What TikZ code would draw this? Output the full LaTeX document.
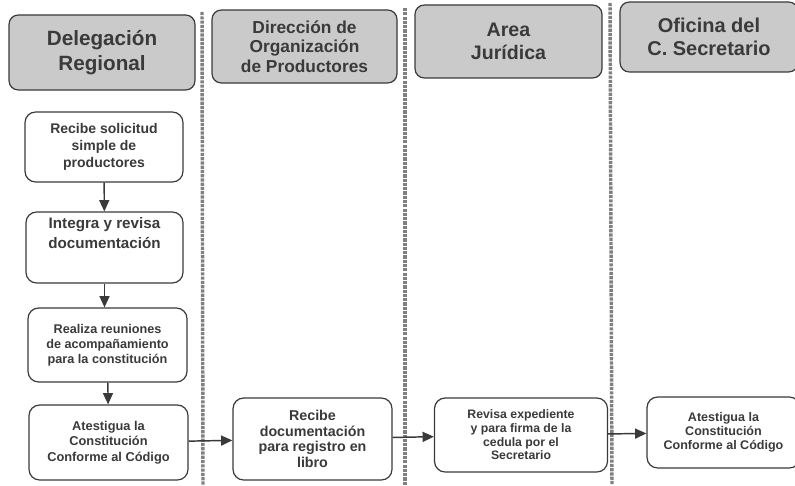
\documentclass[tikz,border=0pt]{standalone}
\usepackage{fontspec}
\setmainfont{Liberation Sans}
\usetikzlibrary{arrows.meta, positioning}

\definecolor{ink}{HTML}{3A3A3A}
\definecolor{lanefill}{HTML}{CACACA}

\begin{document}
\begin{tikzpicture}[
    x=0.75pt, y=-0.75pt,
    lane/.style={rectangle, draw=ink, fill=lanefill, line width=0.9pt, rounded corners=7pt, align=center, text=ink, inner sep=2pt},
    process/.style={rectangle, draw=ink, fill=white, line width=0.9pt, rounded corners=8pt, align=center, text=ink, inner sep=2pt},
    arrow/.style={-{Triangle[length=8.5pt, width=7.5pt]}, line width=1.1pt, draw=ink, fill=ink},
    divider/.style={draw=black!50, line width=2.6pt, dash pattern=on 2.4pt off 0.8pt}
]
\useasboundingbox (0,0) rectangle (795,485);

% Lane dividers
\draw[divider] (202,12) -- (203,485);
\draw[divider] (405,8) -- (405,485);
\draw[divider] (610,3) -- (612,485);

% Lane headers
\node[lane, minimum width=139.5pt, minimum height=56.25pt, font={\bfseries\fontsize{15.5}{18.75}\selectfont}] (deleg) at (102,52.5) {Delegación\\Regional};
\node[lane, minimum width=138.75pt, minimum height=54.75pt, font={\bfseries\fontsize{13}{14.5}\selectfont}] (direc) at (304.5,46.5) {Dirección de\\Organización\\de Productores};
\node[lane, minimum width=140.25pt, minimum height=54.75pt, font={\bfseries\fontsize{14.7}{17.5}\selectfont}] (area) at (508.5,41.5) {Area\\Jurídica};
\node[lane, minimum width=133.5pt, minimum height=52.5pt, font={\bfseries\fontsize{15}{17.5}\selectfont}] (ofic) at (709,37) {Oficina del\\C. Secretario};

% Delegación Regional
\node[process, minimum width=118.5pt, minimum height=52.5pt, font={\bfseries\fontsize{10.5}{12.5}\selectfont}] (recibe) at (104,147) {Recibe solicitud\\simple de\\productores};
\node[process, minimum width=117.75pt, minimum height=53.25pt, font={\bfseries\fontsize{11.4}{15}\selectfont}] (integra) at (104.5,247.5) {Integra y revisa\\documentación\\[7pt]};
\node[process, minimum width=119.25pt, minimum height=55.5pt, font={\bfseries\fontsize{9.5}{11.3}\selectfont}] (reuniones) at (107.5,345) {Realiza reuniones\\de acompañamiento\\para la constitución};
\node[process, minimum width=119.25pt, minimum height=56.25pt, font={\bfseries\fontsize{9.6}{11.6}\selectfont}] (atestigua) at (108.5,442.5) {Atestigua la\\Constitución\\Conforme al Código};

% Otras areas
\node[process, minimum width=119.25pt, minimum height=61.5pt, font={\bfseries\fontsize{10.7}{11.8}\selectfont}] (registro) at (312.5,439) {Recibe\\documentación\\para registro en\\libro};
\node[process, minimum width=129.75pt, minimum height=55.5pt, font={\bfseries\fontsize{9.2}{10.2}\selectfont}] (revisa) at (521,435) {Revisa expediente\\y para firma de la\\cedula por el\\Secretario};
\node[process, minimum width=114.75pt, minimum height=53.25pt, font={\bfseries\fontsize{9.4}{10.6}\selectfont}] (firma) at (723.5,432.5) {Atestigua la\\Constitución\\Conforme al Código};

\draw[arrow] (recibe) -- (integra);
\draw[arrow] (integra.south) -- (reuniones.north -| integra.south);
\draw[arrow] (reuniones) -- (atestigua);
\draw[arrow] (atestigua) -- (registro);
\draw[arrow] (registro) -- (revisa);
\draw[arrow] (revisa) -- (firma);

\end{tikzpicture}
\end{document}
